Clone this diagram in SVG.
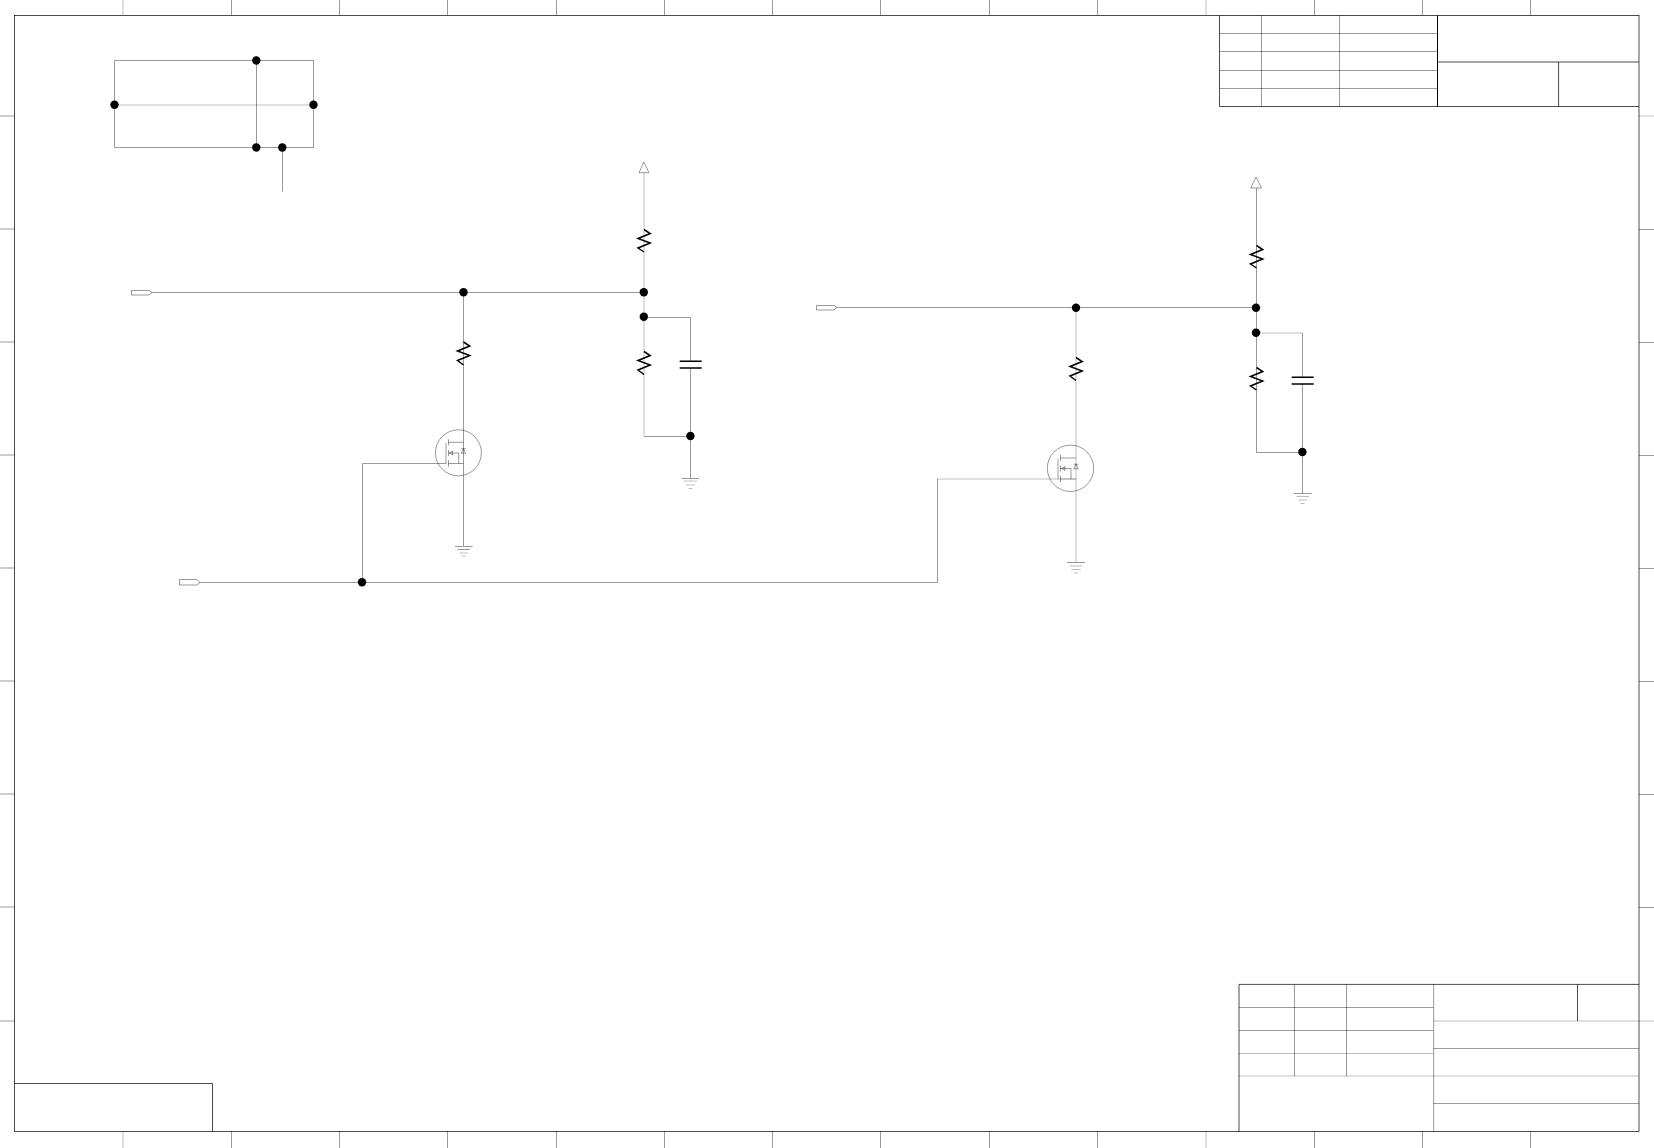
<svg xmlns="http://www.w3.org/2000/svg" width="1654" height="1148" viewBox="0 0 1654 1148">
<style>
line,path,polyline,circle.o,polygon,rect{fill:none;stroke:#000;stroke-width:.4}
.f{stroke-width:.7}
.b{stroke-width:1}
.r{stroke-width:1.5;stroke-linejoin:miter}
.c{stroke-width:1.4}
.d{fill:#000;stroke:none}
.k{stroke-width:.26}
</style>
<rect width="1654" height="1148" fill="#fff" style="stroke:none;fill:#fff"/>
<g id="frame">
<g id="ticks-top">
<path d="M231.5 0V15M339.5 0V15M447.5 0V15M556.5 0V15M664.5 0V15M772.5 0V15M880.5 0V15M989.5 0V15M1097.5 0V15M1314.5 0V15M1422.5 0V15M1530.5 0V15"/>
<path class="k" d="M123 0V15M1206 0V15"/>
</g>
<g id="ticks-bottom">
<path d="M231.5 1131V1148M339.5 1131V1148M447.5 1131V1148M556.5 1131V1148M664.5 1131V1148M772.5 1131V1148M880.5 1131V1148M989.5 1131V1148M1097.5 1131V1148M1314.5 1131V1148M1422.5 1131V1148M1530.5 1131V1148"/>
<path class="k" d="M123 1131V1148M1206 1131V1148"/>
</g>
<g id="ticks-left">
<path d="M0 116H14M0 229H14M0 342H14M0 455H14M0 568H14M0 681H14M0 794H14M0 907H14M0 1021H14"/>
</g>
<g id="ticks-right">
<path class="k" d="M1639 116H1654M1639 1021H1654"/>
<path d="M1639 229.5H1654M1639 342.5H1654M1639 455.5H1654M1639 568.5H1654M1639 681.5H1654M1639 794.5H1654M1639 907.5H1654"/>
</g>
<rect class="f" x="14.5" y="15.5" width="1624.5" height="1116"/>
</g>
<g id="block-top-right">
<path class="f" d="M1219.5 15.5V106.5H1639M1437.5 62H1639M1558.6 62V106.5"/>
<line class="b" x1="1437.5" y1="15.5" x2="1437.5" y2="106.5"/>
<path d="M1261.5 15.5V106.5M1339.5 15.5V106.5M1219.5 33.5H1437.5M1219.5 51.5H1437.5M1219.5 70.5H1437.5M1219.5 88.5H1437.5"/>
</g>
<g id="block-bottom-right">
<path class="f" d="M1239 984.4V1131.5M1239 984.4H1639M1577.5 984.4V1021"/>
<path d="M1433.7 984.4V1131.5M1294.5 984.4V1076M1346.5 984.4V1076M1239 1007.5H1433.5M1239 1030.5H1433.5M1433.5 1048.5H1639M1433.5 1103.5H1639"/>
<path class="k" d="M1239 1053.5H1433.5M1239 1076H1639M1433.5 1021H1639"/>
</g>
<g id="block-bottom-left">
<path class="f" d="M14.5 1083.5H212.5V1131.5"/>
</g>
<g id="connectors">
<path d="M114.5 60.5H313.5V147.5H114.5ZM256.5 60.5V147.5M282.5 147.5V191.7"/>
<path class="k" d="M114.5 105H313.5"/>
<path d="M152 292.5H644M463.5 292.5V546"/>
<path class="k" d="M644 172.7V436"/>
<path d="M644 436.5H690.5M644 317.5H690.5V361.3M690.5 368V478.5"/>
<path d="M199.5 582.5H937.5V479M362.5 582.5V463.5H446"/>
<path class="k" d="M937.5 479H1076"/>
<path d="M837 307.5H1256.5"/>
<path class="k" d="M1076 307.5V562.3"/>
<path d="M1256.5 188V452.5H1302.5M1302.5 333V377.3M1302.5 384V493.5"/>
<path class="k" d="M1256.5 333H1302.5"/>
</g>
<g id="junctions">
<circle class="d" cx="256.3" cy="60.5" r="4.2"/>
<circle class="d" cx="114.5" cy="104.7" r="4.2"/>
<circle class="d" cx="313.5" cy="104.7" r="4.2"/>
<circle class="d" cx="256.3" cy="147.5" r="4.2"/>
<circle class="d" cx="282.3" cy="147.5" r="4.2"/>
<circle class="d" cx="463.5" cy="292.3" r="4.2"/>
<circle class="d" cx="643.8" cy="292.3" r="4.2"/>
<circle class="d" cx="643.8" cy="316.7" r="4.2"/>
<circle class="d" cx="690.4" cy="436" r="4.2"/>
<circle class="d" cx="362" cy="582.3" r="4.2"/>
<circle class="d" cx="1076" cy="307.7" r="4.2"/>
<circle class="d" cx="1256" cy="307.7" r="4.2"/>
<circle class="d" cx="1256" cy="332.7" r="4.2"/>
<circle class="d" cx="1302.4" cy="452" r="4.2"/>
</g>
<g id="port-1"><path d="M131.5 290.5H149L152 292.5L149 295H131.5Z"/></g>
<g id="port-2"><path d="M179.5 579.5H197L200 582.5L197 585H179.5Z"/></g>
<g id="port-3"><path d="M816.5 305.5H834L837 307.5L834 310H816.5Z"/></g>
<g id="supply-1"><polygon points="643.8,162 649,172.7 639,172.7"/></g>
<g id="supply-2"><polygon points="1256,177 1261.5,188 1250.7,188"/></g>
<g id="R1"><polyline class="r" points="644,229.5 650.2,233.5 638,238.5 650.2,243 638,248 644,252"/></g>
<g id="R2"><polyline class="r" points="644,351.5 650.2,355.5 638,360.5 650.2,365 638,370 644,374.5"/></g>
<g id="R3"><polyline class="r" points="463.5,342 469.7,346 457.5,351 469.7,355.5 457.5,360.5 463.5,365"/></g>
<g id="R4"><polyline class="r" points="1256.5,245.5 1262.7,249.5 1250.5,254.5 1262.7,259 1250.5,264 1256.5,268"/></g>
<g id="R5"><polyline class="r" points="1256.5,367.5 1262.7,371.5 1250.5,376.5 1262.7,381 1250.5,386 1256.5,390"/></g>
<g id="R6"><polyline class="r" points="1076,357.5 1082.2,361.5 1070,366.5 1082.2,371 1070,376 1076,380.5"/></g>
<g id="C1"><path class="c" d="M679.7 361.3H701.7M679.7 368H701.7"/></g>
<g id="C2"><path class="c" d="M1291.7 377.3H1313.7M1291.7 384H1313.7"/></g>
<g id="Q1">
<circle class="o" cx="458.4" cy="452.8" r="23"/>
<path d="M446 443V463.5M448.5 439.3V445.3M448.5 450V456M448.5 460V466.7M448.5 442.3H463.5M448.5 463.5H463.5M448.5 453H458.7V463.5"/>
<path d="M449.5 453L452.5 451V455Z"/>
<path d="M461.3 453.3H465.7L463.5 448.7ZM461.3 448.7H465.7"/>
</g>
<g id="Q2">
<circle class="o" cx="1070.5" cy="468.3" r="23.2"/>
<path d="M1058 458.5V479M1060.5 454.8V460.8M1060.5 465.5V471.5M1060.5 475.5V482.2M1060.5 458H1076M1060.5 468.5H1071V479"/>
<path class="k" d="M1060.5 479H1076"/>
<path d="M1062 468.5L1065 466.5V470.5Z"/>
<path d="M1073.8 468.8H1078.2L1076 464.2ZM1073.8 464.2H1078.2"/>
</g>
<g id="GND1"><path d="M455 546.5H472.7M457.5 549.5H470"/><path class="k" d="M459.5 553H468M461.5 556H465.5"/></g>
<g id="GND2"><path d="M681.7 478.5H699.3"/><path class="k" d="M684 481H697M686 485H695M688.5 488.5H692.5"/></g>
<g id="GND3"><path d="M1067 562.5H1085"/><path class="k" d="M1069.5 566H1082.5M1071.5 569.5H1080.5M1074 573H1078"/></g>
<g id="GND4"><path d="M1294 493.5H1311.5"/><path class="k" d="M1296.5 496.5H1309M1298.5 500H1307M1300.5 503.5H1304.5"/></g>
</svg>
